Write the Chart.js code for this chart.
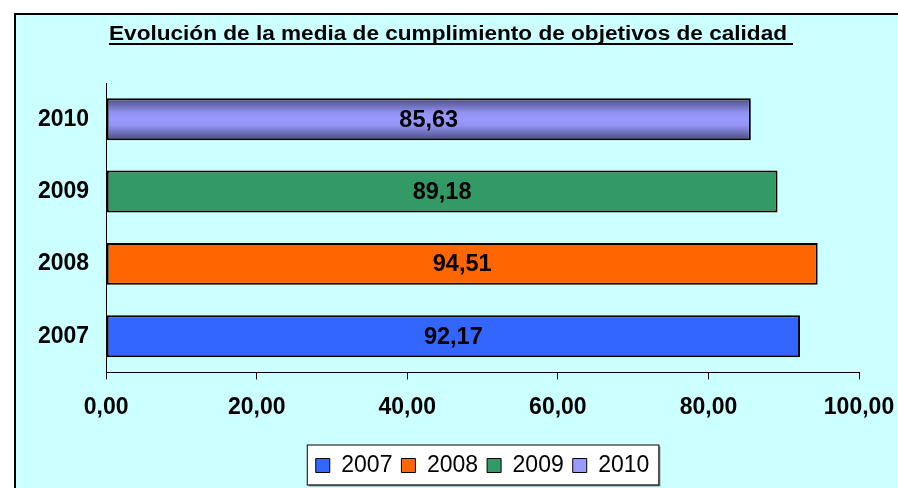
<!DOCTYPE html>
<html>
<head>
<meta charset="utf-8">
<script src="https://cdn.jsdelivr.net/npm/chart.js@4.4.1/dist/chart.umd.min.js"></script>
<style>
  html, body { margin: 0; padding: 0; background: #fff; overflow: hidden; }
  #wrap { width: 898px; height: 488px; }
</style>
</head>
<body>
<div id="wrap"><canvas id="chart" width="898" height="488"></canvas></div>
<script>
const years = ['2007', '2008', '2009', '2010'];
const media = [92.17, 94.51, 89.18, 85.63];
const xTicks = [0, 20, 40, 60, 80, 100];
const colores = ['#3366ff', '#ff6600', '#339966', '#9999ff'];
const titulo = 'Evolución de la media de cumplimiento de objetivos de calidad';

const FONT = '"Liberation Sans", Arial, sans-serif';
const fmt = v => v.toFixed(2).replace('.', ',');

// fondo cian con borde, y caja blanca de la leyenda
const fondo = {
  id: 'fondo',
  beforeDraw(chart) {
    const c = chart.ctx;
    c.save();
    c.fillStyle = '#fff';
    c.fillRect(0, 0, chart.width, chart.height);
    c.fillStyle = '#ccffff';
    c.fillRect(15, 14, chart.width, chart.height);
    c.strokeStyle = '#000';
    c.lineWidth = 2;
    c.beginPath();
    c.moveTo(15, chart.height + 5);
    c.lineTo(15, 14);
    c.lineTo(chart.width + 5, 14);
    c.stroke();

    const hb = chart.legend.legendHitBoxes;
    if (hb && hb.length) {
      const first = hb[0], last = hb[hb.length - 1];
      const l = first.left - 9, r = last.left + last.width + 9;
      const top = first.top + first.height / 2 - 21;
      c.fillStyle = '#909090';
      c.fillRect(l + 2, top + 2, r - l, 40);
      c.fillStyle = '#fff';
      c.fillRect(l, top, r - l, 40);
      c.strokeStyle = '#000';
      c.lineWidth = 1;
      c.strokeRect(l + 0.5, top + 0.5, r - l, 40);
    }
    c.restore();
  }
};

// valores dentro de las barras y título subrayado
const etiquetas = {
  id: 'etiquetas',
  afterDatasetsDraw(chart) {
    const c = chart.ctx;
    c.save();
    c.font = 'bold 23.5px ' + FONT;
    c.fillStyle = '#000';
    c.textAlign = 'center';
    c.textBaseline = 'middle';
    chart.getDatasetMeta(0).data.forEach((bar, i) => {
      c.fillText(fmt(media[i]), (bar.base + bar.x) / 2, bar.y + 1);
    });
    c.restore();
  },
  afterDraw(chart) {
    const c = chart.ctx;
    c.save();
    c.font = 'bold 19.5px ' + FONT;
    const w = c.measureText(titulo).width;
    const left = 109, ancho = 678;
    c.translate(left, 39.5);
    c.scale(ancho / w, 1);
    c.fillStyle = '#000';
    c.textAlign = 'left';
    c.textBaseline = 'alphabetic';
    c.fillText(titulo, 0, 0);
    c.setTransform(1, 0, 0, 1, 0, 0);
    c.fillRect(left, 43, ancho + 6, 2);
    c.restore();
  }
};

function relleno(ctx) {
  const i = ctx.dataIndex;
  const chart = ctx.chart;
  if (i !== 3 || !chart.chartArea) return colores[i];
  const s = chart.scales.y;
  const y = s.getPixelForValue(i);
  const h = Math.abs(s.getPixelForValue(1) - s.getPixelForValue(0)) * 0.58 / 2;
  const g = chart.ctx.createLinearGradient(0, y - h, 0, y + h);
  g.addColorStop(0, '#4a4a7c');
  g.addColorStop(0.35, '#9393f4');
  g.addColorStop(0.5, '#9999ff');
  g.addColorStop(0.65, '#9393f4');
  g.addColorStop(1, '#4a4a7c');
  return g;
}

new Chart(document.getElementById('chart'), {
  type: 'bar',
  data: {
    labels: years,
    datasets: [{
      data: media,
      backgroundColor: relleno,
      borderColor: '#000',
      borderWidth: 2,
      borderSkipped: false,
      barPercentage: 0.58,
      categoryPercentage: 1
    }]
  },
  options: {
    indexAxis: 'y',
    responsive: false,
    animation: false,
    layout: { padding: { left: 21, right: 39, top: 83, bottom: 1 } },
    scales: {
      x: {
        min: 0,
        max: 100,
        afterBuildTicks: axis => { axis.ticks = xTicks.map(v => ({ value: v })); },
        afterFit: axis => {
          axis.paddingLeft = 0;
          axis.paddingRight = 0;
          axis.height += 10;
        },
        grid: { drawOnChartArea: false, drawTicks: true, tickLength: 7, tickColor: '#000', lineWidth: 1 },
        border: { display: true, color: '#000', width: 1 },
        ticks: {
          color: '#000',
          padding: 14,
          maxRotation: 0,
          font: { family: FONT, size: 23, weight: 'bold' },
          callback: v => fmt(v)
        }
      },
      y: {
        reverse: true,
        grid: { display: false, drawTicks: false },
        border: { display: true, color: '#000', width: 1 },
        ticks: {
          color: '#000',
          padding: 17,
          font: { family: FONT, size: 23, weight: 'bold' }
        }
      }
    },
    plugins: {
      title: { display: false },
      legend: {
        position: 'bottom',
        fullSize: false,
        labels: {
          color: '#000',
          boxWidth: 14,
          boxHeight: 14,
          padding: 9,
          font: { family: FONT, size: 23 },
          generateLabels: () => years.map((y, i) => ({
            text: y,
            fillStyle: colores[i],
            strokeStyle: '#000',
            lineWidth: 1,
            index: i
          }))
        }
      },
      tooltip: { enabled: false }
    }
  },
  plugins: [fondo, etiquetas]
});
</script>
</body>
</html>
